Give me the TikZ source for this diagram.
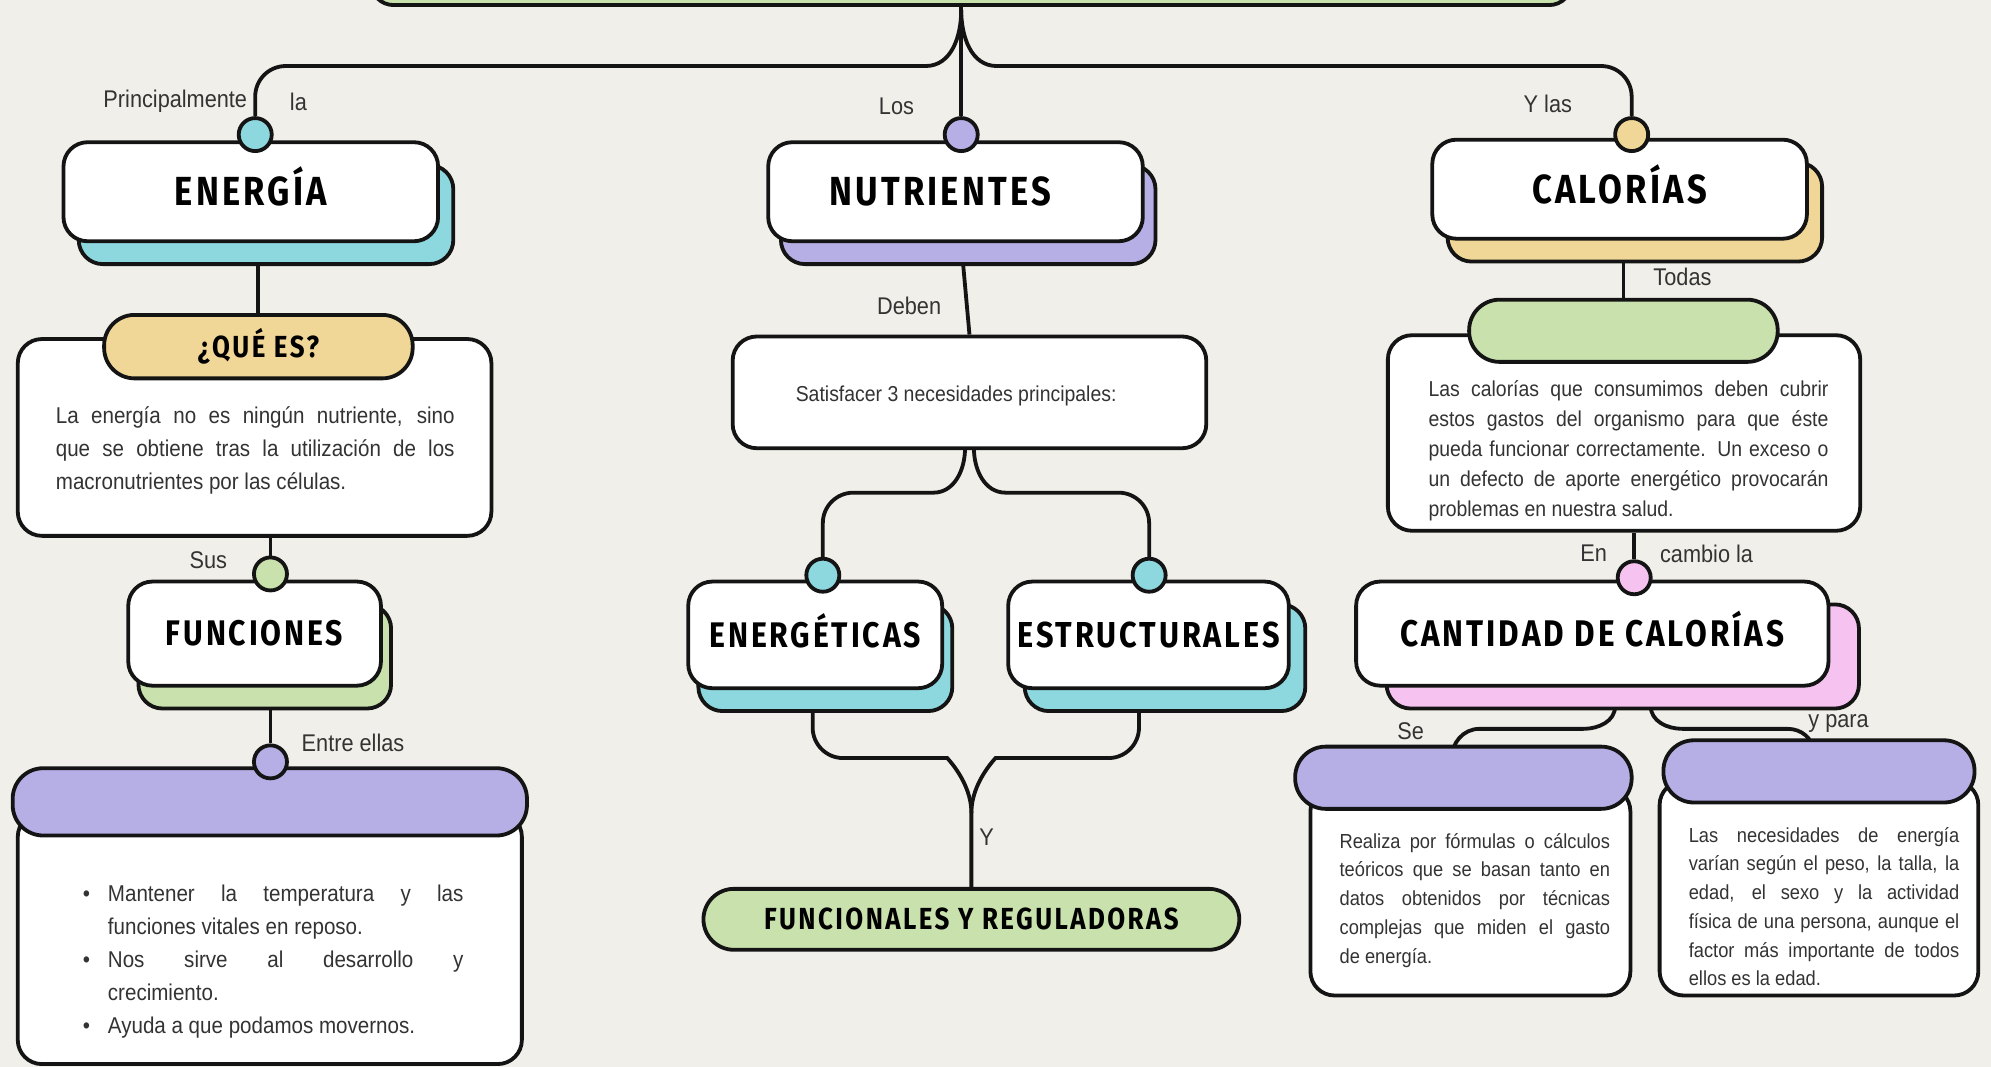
\documentclass[tikz,border=0pt]{standalone}
\usepackage{fontspec}
\setmainfont{Liberation Sans}[FakeStretch=0.9]
\newfontfamily\headfont{Fira Sans}[FakeStretch=0.85,LetterSpace=8]
\usepackage{enumitem}
\usetikzlibrary{shadows,calc}
\definecolor{paper}{HTML}{F0EFE9}
\definecolor{ink}{HTML}{141414}
\definecolor{txt}{HTML}{333333}
\definecolor{tealc}{HTML}{8DD8DF}
\definecolor{lavc}{HTML}{B6AFE6}
\definecolor{tanc}{HTML}{F1D797}
\definecolor{greenc}{HTML}{C9E1AD}
\definecolor{pinkc}{HTML}{F6C3F1}
\pgfdeclarelayer{paperlayer}
\pgfdeclarelayer{lines}
\pgfsetlayers{paperlayer,lines,main}
\tikzset{
  conn/.style={draw=ink, line width=1.5pt},
  card/.style={draw=ink, line width=1.5pt, fill=white, rounded corners=9.5pt, inner sep=0pt},
  shadowed/.style 2 args={general shadow={fill=#1, draw=ink, line width=1.5pt, shadow xshift=#2, shadow yshift=-9pt}},
  hsize/.style={font={\headfont\bfseries\fontsize{#1}{#1}\selectfont}, text height=0.69*#1 pt, text depth=0pt},
  title/.style={card, hsize=#1, text=black},
  title/.default=15,
  pill/.style={draw=ink, line width=1.5pt, rounded corners=12pt, inner sep=0pt},
  dot/.style={circle, draw=ink, line width=1.5pt, minimum size=13pt, inner sep=0pt},
  lbl/.style={font={\fontsize{9.5}{11}\selectfont}, text=txt, inner sep=0pt},
  bodytext/.style={font={\fontsize{9}{13}\selectfont}, align=justify, inner sep=0pt, text=txt},
  smallhead/.style={hsize=#1, text=black},
}
\begin{document}
\begin{tikzpicture}[x=0.5pt,y=0.5pt]
\useasboundingbox (0,0) rectangle (1568,-840);
\begin{pgfonlayer}{paperlayer}
  \fill[paper] (0,0) rectangle (1568,-840);
\end{pgfonlayer}

% top box
\node[pill, fill=greenc, rounded corners=9pt, minimum width=473pt, minimum height=22pt] (topbox) at (765,18) {};

% title cards
\node[title=16, shadowed={tealc}{6pt}, minimum width=147.5pt, minimum height=39pt] (energia) at (197.5,-151) {ENERGÍA};
\node[title=16, shadowed={lavc}{5pt}, minimum width=147.5pt, minimum height=39pt] (nutri) at (752.5,-151) {NUTRIENTES\hspace*{12pt}};
\node[title=16, shadowed={tanc}{6pt}, minimum width=147.5pt, minimum height=39pt] (calor) at (1275.5,-149) {CALORÍAS};
\node[title=14, shadowed={greenc}{4pt}, minimum width=99.5pt, minimum height=41pt] (funciones) at (200.5,-499) {FUNCIONES};
\node[title=14, shadowed={tealc}{4pt}, minimum width=100pt, minimum height=42pt] (energeticas) at (642,-500) {ENERGÉTICAS};
\node[title=14.2, shadowed={tealc}{6.5pt}, minimum width=110.5pt, minimum height=42pt] (estruct) at (904.5,-500) {ESTRUCTURALES};
\node[title=14.6, shadowed={pinkc}{12pt}, minimum width=186pt, minimum height=41pt] (cantidad) at (1254,-499) {CANTIDAD DE CALORÍAS};

% ¿Qué es? box
\node[card, minimum width=186.5pt, minimum height=77.5pt] (qbody) at (200.5,-344.5) {};
\node[pill, fill=tanc, minimum width=121.5pt, minimum height=25pt, smallhead=12] (quees) at (203.5,-273) {¿QUÉ ES?};
\node[bodytext, text width=157pt] (qtext) at (201,-355) {La energía no es ningún nutriente, sino\linebreak que se obtiene tras la utilización de los\linebreak macronutrientes por las células.};

% functions list box
\node[card, minimum width=198.5pt, minimum height=99pt] (lbody) at (212.5,-739) {};
\node[pill, fill=lavc, minimum width=202.5pt, minimum height=26.5pt] (lpill) at (212.5,-631.5) {};
\node[bodytext, text width=152.5pt] (ltext) at (212.5,-751) {%
\begin{itemize}[leftmargin=12.5pt,labelsep=7pt,topsep=0pt,itemsep=0pt,parsep=0pt,partopsep=0pt,label={\textbullet}]
\item Mantener la temperatura y las\linebreak funciones vitales en reposo.
\item Nos sirve al desarrollo y\linebreak crecimiento.
\item Ayuda a que podamos movernos.
\end{itemize}};

% satisfacer box
\node[card, minimum width=186.5pt, minimum height=44pt] (satisf) at (763.5,-309) {};
\node[font={\fontsize{8.5}{11}\selectfont}, text=txt, inner sep=0pt] (stext0) at (753,-312) {Satisfacer 3 necesidades principales:};

% funcionales y reguladoras
\node[pill, fill=greenc, minimum width=211pt, minimum height=24pt, smallhead=12] (funcreg) at (765,-724) {FUNCIONALES Y REGULADORAS};

% calorias text box
\node[card, minimum width=186pt, minimum height=77pt] (cbody) at (1279,-341) {};
\node[pill, fill=greenc, minimum width=121.5pt, minimum height=24.5pt] (cpill) at (1278.5,-260.5) {};
\node[bodytext, font={\fontsize{8.5}{11.9}\selectfont}, text width=157.5pt] (ctext) at (1282.5,-355) {Las calorías que consumimos deben cubrir\linebreak estos gastos del organismo para que éste\linebreak pueda funcionar correctamente. Un exceso o\linebreak un defecto de aporte energético provocarán\linebreak problemas en nuestra salud.};

% bottom left
\node[card, minimum width=126pt, minimum height=82pt] (sbody) at (1158,-702) {};
\node[pill, fill=lavc, minimum width=132.5pt, minimum height=24.5pt] (spill) at (1152.5,-612.5) {};
\node[bodytext, font={\fontsize{8}{11.3}\selectfont}, text width=106.5pt] (stext) at (1161.5,-709) {Realiza por fórmulas o cálculos\linebreak teóricos que se basan tanto en\linebreak datos obtenidos por técnicas\linebreak complejas que miden el gasto\linebreak de energía.};

% bottom right
\node[card, minimum width=125.5pt, minimum height=84.5pt] (pbody) at (1432.5,-699.5) {};
\node[pill, fill=lavc, minimum width=122.5pt, minimum height=24.5pt] (ppill) at (1432.5,-607.5) {};
\node[bodytext, font={\fontsize{8}{11.3}\selectfont}, text width=106.5pt] (ptext) at (1436.5,-714) {Las necesidades de energía\linebreak varían según el peso, la talla, la\linebreak edad, el sexo y la actividad\linebreak física de una persona, aunque el\linebreak factor más importante de todos\linebreak ellos es la edad.};

% dots
\node[dot, fill=tealc] (dE) at (201,-106) {};
\node[dot, fill=lavc] (dN) at (757,-106) {};
\node[dot, fill=tanc] (dC) at (1285,-106) {};
\node[dot, fill=greenc] (dF) at (213,-452) {};
\node[dot, fill=lavc] (dL) at (213,-600) {};
\node[dot, fill=tealc] (dEn) at (648,-453) {};
\node[dot, fill=tealc] (dEs) at (905,-453) {};
\node[dot, fill=pinkc] (dP) at (1287,-455) {};

% labels
\node[lbl, anchor=east] (tPrin) at (195,-80) {Principalmente};
\node[lbl] (tLa) at (235,-80) {la};
\node[lbl] (tLos) at (706,-84) {Los};
\node[lbl] (tYlas) at (1219,-82) {Y las};
\node[lbl] (tDeben) at (716,-241) {Deben};
\node[lbl] (tTodas) at (1325,-218) {Todas};
\node[lbl] (tSus) at (164,-441) {Sus};
\node[lbl] (tEntre) at (278,-585) {Entre ellas};
\node[lbl] (tEn) at (1255,-436) {En};
\node[lbl] (tCambio) at (1344,-436) {cambio la};
\node[lbl] (tSe) at (1111,-576) {Se};
\node[lbl] (tYpara) at (1448,-570) {y para};
\node[lbl] (tY) at (777,-659) {Y};

% connectors
\begin{pgfonlayer}{lines}
  \coordinate (jt) at (757,-8);
  \coordinate (hL) at (729,-52);
  \coordinate (hR) at (785,-52);
  \draw[conn] (topbox.south -| dN) -- (dN);
  \draw[conn] (jt) to[out=-90,in=0] (hL) [rounded corners=12pt] -| (dE);
  \draw[conn] (jt) to[out=-90,in=180] (hR) [rounded corners=12pt] -| (dC);

  \draw[conn] (quees.north) -- (quees.north |- energia.south);
  \draw[conn] (dF) -- (dF |- qbody.south);
  \draw[conn] (dL) -- (dL |- funciones.south);

  \draw[conn] (dN |- nutri.south) -- (satisf.north);
  \coordinate (sL) at (760,-353);
  \coordinate (sR) at (767,-353);
  \coordinate (fL) at (735,-388);
  \coordinate (fR) at (792,-388);
  \draw[conn] (sL) to[out=-90,in=0] (fL) [rounded corners=12pt] -| (dEn);
  \draw[conn] (sR) to[out=-90,in=180] (fR) [rounded corners=12pt] -| (dEs);

  \coordinate (eL) at (640,-545);
  \coordinate (eR) at (897,-545);
  \coordinate (gL) at (722,-597);
  \coordinate (gR) at (808,-597);
  \coordinate (jY) at (765,-640);
  \draw[conn] (eL) [rounded corners=12pt] |- (gL) [sharp corners] to[out=0,in=90] (jY) -- (funcreg.north -| jY);
  \draw[conn] (eR) [rounded corners=12pt] |- (gR) [sharp corners] to[out=180,in=90] (jY);

  \draw[conn] (cpill.north) -- (cpill.north |- calor.south);
  \draw[conn] (dP) -- (dP |- cbody.south);

  \coordinate (kL) at (1272,-556);
  \coordinate (kR) at (1300,-556);
  \coordinate (mL) at (1247,-574);
  \coordinate (mR) at (1325,-574);
  \coordinate (nL) at (1165,-574);
  \coordinate (nR) at (1408,-574);
  \coordinate (sIn) at (1143,-598);
  \coordinate (pIn) at (1428,-592);
  \draw[conn] (kL) to[out=-90,in=0] (mL) -- (nL) to[out=180,in=90] (sIn);
  \draw[conn] (kR) to[out=-90,in=180] (mR) -- (nR) to[out=0,in=90] (pIn);
\end{pgfonlayer}
\end{tikzpicture}
\end{document}
